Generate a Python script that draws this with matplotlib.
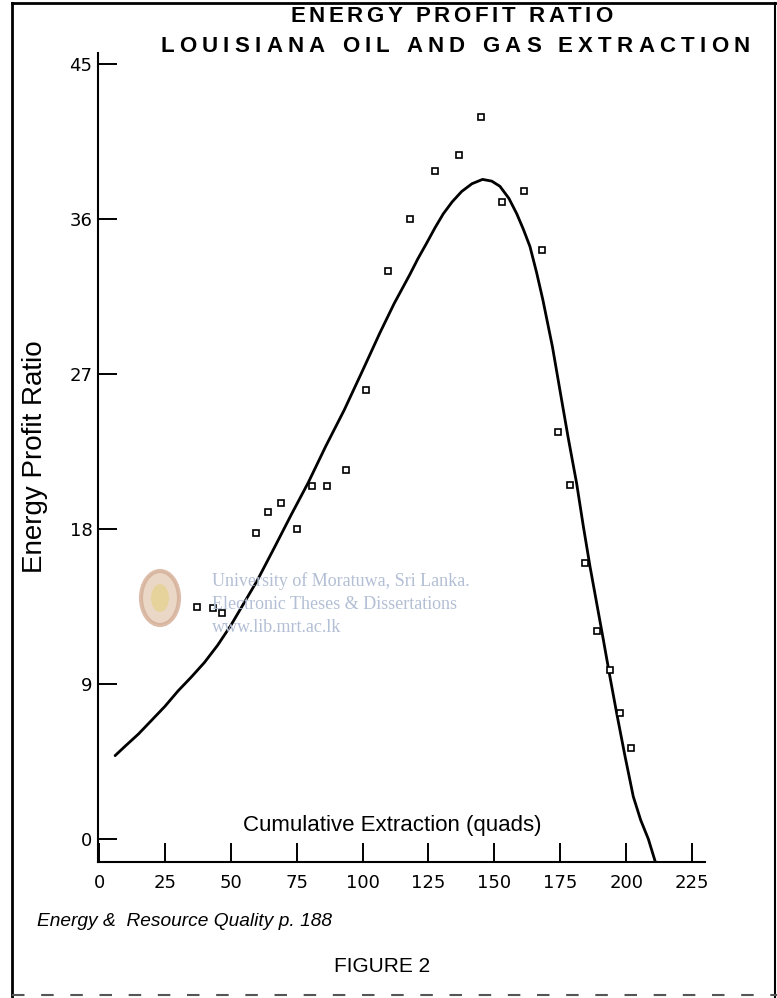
import matplotlib
matplotlib.use("Agg")
import matplotlib.pyplot as plt
from matplotlib.lines import Line2D
from matplotlib.patches import Ellipse
from matplotlib.font_manager import FontProperties, findfont, get_font

W, H = 777, 998

# ---- data ----
point_x = [37.3, 43.4, 46.5, 59.6, 64.2, 68.9, 75.0, 80.7, 86.4, 93.7, 101.3,
           109.7, 118.1, 127.5, 136.5, 144.9, 153.0, 161.3, 168.2,
           174.2, 178.7, 184.4, 188.8, 193.9, 197.6, 201.8]
point_y = [13.5, 13.4, 13.1, 17.75, 19.0, 19.5, 18.0, 20.5, 20.5, 21.4, 26.1,
           33.0, 36.0, 38.8, 39.7, 41.9, 37.0, 37.6, 34.2,
           23.65, 20.56, 16.0, 12.1, 9.8, 7.3, 5.3]

curve_x = [6.1, 10, 15, 20, 25, 30, 35, 40, 45, 50, 55, 60, 66.8, 73, 79.4,
           86, 93, 100, 106.6, 112, 118.0, 121, 124.3, 127.5, 130.6, 134,
           137.6, 141.5, 145.5, 149, 152.1, 155.5, 158.5, 161, 163.5, 166,
           168.4, 172, 175.5, 178, 181.2, 183.7, 186.3, 188.8, 191.3, 193.8,
           196.4, 199.5, 202.7, 205.5, 208.4, 211.0]
curve_y = [4.84, 5.4, 6.1, 6.9, 7.7, 8.6, 9.4, 10.25, 11.25, 12.4, 13.7, 15.0,
           17.0, 18.85, 20.7, 22.8, 24.9, 27.2, 29.4, 31.1, 32.8, 33.7, 34.6,
           35.5, 36.3, 37.0, 37.6, 38.05, 38.3, 38.2, 37.9, 37.2, 36.3, 35.4,
           34.4, 32.9, 31.3, 28.6, 25.5, 23.3, 20.65, 18.2, 15.8, 13.7, 11.6,
           9.45, 7.3, 4.85, 2.46, 1.1, 0.0, -1.3]

x_ticks = [0, 25, 50, 75, 100, 125, 150, 175, 200, 225]
y_ticks = [0, 9, 18, 27, 36, 45]

title1 = "ENERGY PROFIT RATIO"
title2 = "LOUISIANA OIL AND GAS EXTRACTION"
x_label = "Cumulative Extraction (quads)"
y_label = "Energy Profit Ratio"
source = "Energy &  Resource Quality p. 188"
fig_label = "FIGURE 2"
watermark = ["University of Moratuwa, Sri Lanka.",
             "Electronic Theses & Dissertations",
             "www.lib.mrt.ac.lk"]

plt.rcParams["font.family"] = ["Liberation Sans", "DejaVu Sans"]

fig = plt.figure(figsize=(W / 100, H / 100), dpi=100)
fig.patch.set_facecolor("white")


def fx(x):
    return x / W


def fy(y):
    return 1 - y / H


def spaced_text(s, x0, x1, yc, size):
    """Draw bold text spread evenly between pixel x0 and x1 at height yc."""
    prop = FontProperties(family="Liberation Sans", weight="bold", size=size)
    font = get_font(findfont(prop))
    font.set_size(size, 100)
    adv = []
    for ch in s:
        g = font.load_char(ord(ch))
        adv.append(g.linearHoriAdvance / 65536)
    tracking = ((x1 - x0) - sum(adv)) / (len(s) - 1)
    x = x0
    for ch, a in zip(s, adv):
        if ch != " ":
            fig.text(fx(x), fy(yc), ch, ha="left", va="center",
                     fontproperties=prop)
        x += a + tracking


ax = fig.add_axes([fx(98), fy(862), (705 - 98) / W, (862 - 53) / H])
ax.set_xlim(-0.38, 229.9)
ax.set_ylim(-1.336, 45.64)

for s in ["top", "right"]:
    ax.spines[s].set_visible(False)
for s in ["left", "bottom"]:
    ax.spines[s].set_linewidth(1.5)

ax.set_xticks(x_ticks)
ax.set_yticks(y_ticks)
ax.tick_params(axis="both", direction="in", length=13.5, width=1.4,
               labelsize=13, colors="black")
ax.tick_params(axis="x", pad=9)
ax.tick_params(axis="y", pad=4)
for lab in ax.get_xticklabels() + ax.get_yticklabels():
    lab.set_family("DejaVu Sans")

ax.plot(curve_x, curve_y, color="black", lw=2.0, solid_capstyle="round",
        solid_joinstyle="round", clip_on=False, zorder=3)
ax.plot(point_x, point_y, linestyle="none", marker="s", markersize=4.3,
        markerfacecolor="white", markeredgecolor="black", markeredgewidth=1.2,
        zorder=4)

# titles and labels
spaced_text(title1, 290, 612, 17, 16)
spaced_text(title2, 160, 750, 46, 16)
fig.text(fx(392), fy(826), x_label, ha="center", va="center", fontsize=16)
fig.text(fx(35), fy(457), y_label, ha="center", va="center", fontsize=20,
         rotation=90)
fig.text(fx(37), fy(922), source, ha="left", va="center", fontsize=13.8,
         style="italic")
fig.text(fx(382), fy(966), fig_label, ha="center", va="center", fontsize=15)

# faint watermark
wm_color = "#b3bfd4"
for i, line in enumerate(watermark):
    fig.text(fx(212), fy(581 + 23.5 * i), line, ha="left", va="center",
             fontsize=13, family="Liberation Serif", color=wm_color, zorder=0)
fig.patches.append(Ellipse((fx(160), fy(598)), 38 / W, 54 / H,
                           transform=fig.transFigure, facecolor="#e6cdb8",
                           edgecolor="#d4ad94", lw=3, alpha=0.8, zorder=0))
fig.patches.append(Ellipse((fx(160), fy(598)), 18 / W, 28 / H,
                           transform=fig.transFigure, facecolor="#e5d291",
                           edgecolor="none", alpha=0.8, zorder=0))

# frame of the scanned page
fig.add_artist(Line2D([fx(12), fx(12)], [fy(3), fy(998)], color="black", lw=2))
fig.add_artist(Line2D([fx(12), fx(777)], [fy(3), fy(3)], color="black", lw=2))
fig.add_artist(Line2D([fx(775), fx(775)], [fy(3), fy(998)], color="black", lw=1.5))
fig.add_artist(Line2D([fx(12), fx(777)], [fy(995), fy(995)], color="#555555",
                      lw=1.5, linestyle=(0, (6, 8))))

fig.savefig("out.png", dpi=100)
